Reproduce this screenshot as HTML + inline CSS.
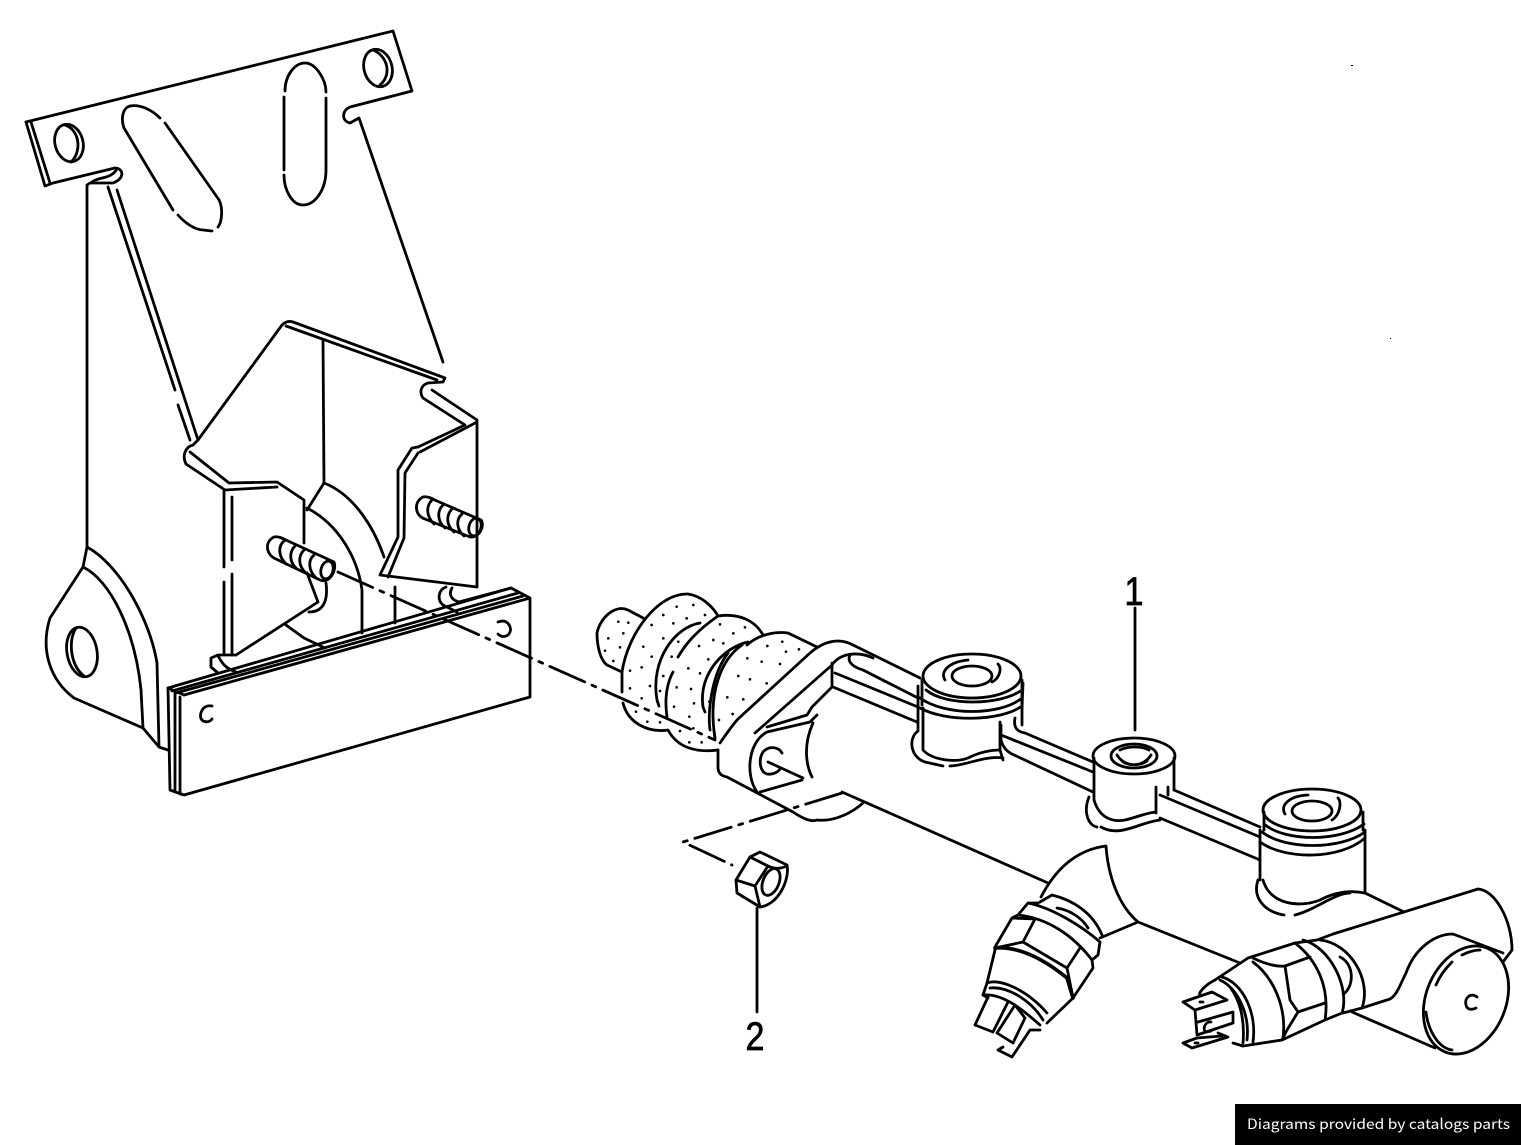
<!DOCTYPE html>
<html><head><meta charset="utf-8"><style>
html,body{margin:0;padding:0;background:#fff;width:1521px;height:1145px;overflow:hidden}
svg{display:block;position:absolute;left:0;top:0}
.b{position:absolute;left:1235px;top:1104px;width:286px;height:41px;background:#000}
</style></head><body>
<svg width="1521" height="1145" viewBox="0 0 1521 1145">
<g fill="none" stroke="#000" stroke-width="2.8" stroke-linejoin="round" stroke-linecap="round">
<!-- top plate -->
<path d="M26 122L393 31L412 91L350 107C342 110 341 121 350 123L359 118L443 362"/>
<path d="M26 122L45 186L53 183L115 168C123 168 126 178 113 183L90 183L87 185V547"/>
<path d="M31 122L50 183M92 182C100 176 110 180 117 169"/>
<ellipse cx="69" cy="143" rx="14" ry="19" transform="rotate(-15 69 143)"/>
<path d="M65 125C80 130 82 152 71 162"/>
<ellipse cx="378" cy="68" rx="14" ry="19" transform="rotate(-15 378 68)"/>
<path d="M373 50C388 56 392 75 380 85"/>
<path d="M160 118C152 110 140 104 130 106C122 108 121 120 124 128L173 210M178 215C185 223 195 230 203 230L212 231M218 227C222 222 224 205 217 197L165 123"/>
<path d="M285 91C285 75 295 63 305 63C316 63 326 80 326 92M326 98V170C326 190 315 205 303 205C292 205 284 190 284 175M284 170V97"/>
<path d="M108 187L175 390M178 405L190 440M117 190L198 440"/>
<!-- lower bracket -->
<path d="M87 547C120 565 150 620 157 663L159 747L168 750"/>
<path d="M87 547L83 567C110 580 135 630 141 690L143 728"/>
<path d="M83 567L50 618C40 650 50 680 74 698L143 728L159 747"/>
<ellipse cx="82" cy="652" rx="15" ry="25" transform="rotate(-10 82 652)"/>
<path d="M76 628C68 640 70 665 84 676"/>
<!-- channel -->
<path d="M198 440L282 325C286 321 290 321 293 322L445 378L443 382L428 383C421 385 419 392 423 398L465 425L418 447"/>
<path d="M286 326L437 380M432 390L477 420V587M477 422L420 452"/>
<path d="M198 440L193 445C185 447 182 456 186 464L225 490L277 487M190 452L229 483L277 482L304 500V543"/>
<path d="M224 490V567M224 582V653M232 497V560M232 574V655"/>
<path d="M236 655L318 602L307 573M326 583C328 598 325 612 309 612"/>
<path d="M323 340L324 483L307 510M324 483C355 495 375 530 384 557M307 508C340 525 358 560 362 590V633M395 587V623M286 625L304 638L325 648"/>
<path d="M418 447L412 448L398 470V537L380 575L477 587M418 453L405 473L404 538L388 577"/>
<path d="M446 587C438 590 437 600 443 605L457 612M452 588C448 595 452 600 459 602L511 588"/>
<path d="M218 673L211 667V658L218 655H236M218 656C222 662 223 667 236 672"/>
<!-- bar -->
<path d="M184 695L530 598V697L184 795L170 790L168 688L511 588L530 598"/>
<path d="M175 693V792M180 697V794M168 688L184 695M172 691L518 593M176 693L523 596"/>
<path d="M212 706C202 704 198 716 202 720C205 723 210 722 212 719"/>
<path d="M498 622C508 618 512 628 510 632C508 637 502 638 498 634"/>
<!-- studs -->
<path d="M274 537C264 542 266 555 276 559L320 580C330 584 337 570 334 562L288 541C282 538 278 536 274 537Z"/>
<path d="M284 541C278 546 278 556 286 564M295 546C289 552 289 562 297 569M304 550C298 556 298 566 306 573M314 555C308 560 308 570 316 578"/>
<ellipse cx="327" cy="570" rx="6" ry="9" transform="rotate(15 327 570)"/>
<path d="M423 497C413 502 415 516 425 519L470 537C480 538 485 525 481 520L437 501C431 498 427 496 423 497Z"/>
<path d="M432 500C426 506 426 516 434 524M443 505C437 511 437 521 445 528M452 509C446 515 446 525 454 532M462 514C456 519 456 529 464 536"/>
<ellipse cx="475" cy="527" rx="6" ry="9" transform="rotate(15 475 527)"/>
<!-- axis -->
<path d="M338 572L715 740" stroke-dasharray="38 8 4 8"/>
<path d="M768 762L803 778M842 792L1048 883M1138 922L1240 963"/>
<path d="M842 793L683 842L732 865" stroke-dasharray="38 8 4 8"/>
<!-- boot -->
<path d="M622 672L607 665C600 660 597 645 597 633C600 618 615 604 628 610L645 619"/>
<path d="M622 692V672C628 633 658 593 688 594C702 596 713 607 718 616C738 613 755 620 763 635"/>
<path d="M623 703C628 723 648 733 668 730C677 747 695 753 718 750"/>
<path d="M700 623C675 627 650 660 657 700L659 706M673 672C665 687 665 703 667 717M678 657C685 645 695 632 718 616"/>
<path d="M748 642C725 647 698 673 703 707L705 712M742 645C720 660 708 695 715 738M728 653C710 677 708 715 710 730"/>
<path d="M747 645C758 635 775 631 788 633L817 647"/>
<path d="M720 743C729 730 735 722 738 719L810 653C825 640 840 638 853 645L920 678"/>
<path d="M718 750V767C718 774 722 776 727 777L793 812C805 820 812 822 817 820C835 822 853 812 863 803"/>
<path d="M755 733L832 665C840 653 858 651 873 658"/>
<path d="M832 663V687L812 707L807 715L767 727M817 715L810 722L767 732C748 742 745 775 757 792M813 723C803 745 806 765 812 777"/>
<path d="M782 753C778 746 768 746 763 752C758 760 760 772 767 774C773 775 778 772 780 769"/>
<path d="M760 792L802 780"/>
<path d="M850 655C846 663 856 668 863 670L918 698M835 673L918 707M833 687L917 722"/>
<g transform="translate(595 590) scale(.3333)"><path stroke-width="8" d="M70 95h0M100 98h0M40 145h0M85 130h0M30 182h0M75 172h0M55 213h0M105 242h0M170 105h0M205 75h0M245 50h0M295 45h0M330 75h0M235 100h0M275 85h0M205 145h0M145 170h0M170 200h0M140 232h0M250 155h0M230 200h0M205 258h0M165 288h0M195 303h0M105 295h0M140 325h0M245 292h0M280 235h0M315 250h0M340 208h0M312 168h0M355 150h0M385 160h0M415 130h0M375 103h0M450 112h0M385 230h0M360 283h0M288 297h0M297 340h0M237 350h0M283 380h0M343 335h0M372 390h0M413 372h0M397 322h0M445 328h0M465 268h0M430 258h0M515 280h0M555 222h0M500 215h0M457 205h0M517 168h0M573 185h0M612 178h0M562 155h0M123 365h0M157 395h0M195 397h0M255 423h0M283 457h0M320 457h0M295 415h0"/></g>
<!-- reservoir 1 -->
<ellipse cx="972" cy="676" rx="49" ry="22"/>
<path d="M998 664C1002 668 1000 678 992 682M945 680C940 672 948 662 968 660" />
<ellipse cx="972" cy="676" rx="20" ry="10"/>
<path d="M922 680V705M1022 680V725M918 686V730M926 690C945 706 1000 706 1022 690M920 698C945 716 1000 716 1022 698M920 708C945 722 1000 722 1022 706"/>
<path d="M923 708V750C932 760 955 763 968 758C980 752 990 750 1000 750L1003 760M1000 722V750"/>
<path d="M918 731C908 738 910 757 925 762L943 766M950 766C965 766 985 755 1003 758"/>
<!-- strip center -->
<path d="M1023 683L1022 708M1015 718C1013 728 1018 732 1025 733L1093 762M1001 725V740C1003 748 1008 752 1012 754L1093 792M1001 735L1093 772"/>
<!-- center boss -->
<ellipse cx="1134" cy="756" rx="41" ry="18"/>
<ellipse cx="1134" cy="756" rx="23" ry="12"/>
<path d="M1117 755C1125 768 1143 768 1151 755M1120 750C1128 746 1142 746 1149 750M1122 761C1128 766 1140 766 1147 761"/>
<path d="M1094 758V800C1100 820 1115 822 1125 820C1135 818 1145 813 1156 812M1174 758V790M1156 787V813"/>
<path d="M1089 797C1083 812 1088 825 1097 827M1101 827C1120 838 1140 822 1160 820"/>
<path d="M1174 790L1260 827M1160 795L1260 837M1160 818L1260 860M1168 787V795"/>
<!-- reservoir 2 -->
<ellipse cx="1312" cy="810" rx="49" ry="21"/>
<path d="M1338 798C1342 802 1340 815 1332 820M1285 814C1280 806 1288 796 1308 795"/>
<ellipse cx="1312" cy="811" rx="20" ry="10"/>
<path d="M1264 812V830M1363 812V830M1264 824C1285 842 1340 842 1364 824M1262 832C1285 850 1340 850 1365 832M1260 842C1285 860 1340 860 1365 838"/>
<path d="M1260 830V880M1365 830V893"/>
<path d="M1258 880C1252 898 1265 912 1284 915M1263 880C1270 905 1300 908 1320 900C1335 892 1350 890 1365 893M1295 915C1315 910 1335 893 1350 893"/>
<path d="M1365 893L1404 912"/>
<!-- branch & tube -->
<path d="M1041 897C1055 870 1075 850 1106 846C1108 875 1118 905 1138 922L1100 938"/>
<path d="M1333 934L1478 889C1495 890 1512 920 1512 950L1503 962"/>
<path d="M1362 1008L1390 999C1397 995 1400 985 1406 973C1415 948 1435 934 1453 934L1503 953"/>
<path d="M1352 1012L1435 1048"/>
<ellipse cx="1466" cy="1000" rx="40" ry="56" transform="rotate(22 1466 1000)"/>
<path d="M1426 1012C1428 1030 1438 1048 1452 1050M1436 985C1440 975 1446 968 1452 962M1462 955C1468 952 1474 950 1480 950"/>
<path d="M1477 997C1471 992 1464 998 1466 1005C1467 1010 1472 1010 1476 1008"/>
<!-- sensor 1 -->
<path d="M1040 902L1052 895C1073 900 1093 913 1102 935M1057 908C1070 910 1082 918 1088 928"/>
<path d="M1038 903H1028L1018 915L1012 918L995 947V950L987 983L983 995L988 998M1028 903C1053 908 1083 927 1100 942L1098 955L1092 960L1093 968L1073 998L1047 1023"/>
<path d="M1018 915C1047 918 1073 935 1092 960M1012 918L1035 919L1023 942L995 948M1023 942L1067 968L1080 948M1067 968L1073 998"/>
<path d="M995 948C1020 946 1045 960 1067 978L1073 998" stroke-width="3.6"/>
<path d="M987 983C1000 978 1027 990 1047 1013M990 988C1010 986 1033 1003 1043 1020M983 995C1003 993 1023 1010 1040 1025"/>
<path d="M988 997L975 1025L993 1032L1008 1002M1015 1005L997 1033L1013 1043L1025 1018L1015 1005M998 1050L1012 1057L1030 1030L1040 1030M998 1050L1003 1047"/>
<!-- sensor 2 -->
<path d="M1215 980L1248 958L1295 943L1317 940L1333 934"/>
<path d="M1253 958C1265 964 1277 967 1285 966L1310 957M1285 966L1290 1000L1298 1012L1325 1003M1298 1012L1287 1030L1282 1040L1243 1046"/>
<path d="M1295 943C1317 960 1330 987 1325 1020L1282 1040M1303 940C1330 947 1350 987 1342 1013L1325 1020M1320 940C1350 943 1372 980 1362 1008L1343 1013"/>
<path d="M1340 957C1353 963 1355 983 1345 993"/>
<path d="M1253 962C1273 977 1287 1007 1283 1038M1222 977C1243 983 1257 1013 1253 1042M1220 980C1237 988 1250 1013 1247 1040M1230 987C1240 1000 1245 1020 1243 1043"/>
<path d="M1215 980C1205 985 1198 993 1200 995"/>
<path d="M1183 1002L1212 992L1227 1000L1195 1010L1183 1002M1195 1010L1197 1035L1233 1023V1012L1198 1022M1183 1043L1192 1048L1228 1037L1218 1033M1183 1043L1197 1038L1222 1036M1233 1043L1243 1046"/>
<path d="M1211 1022C1205 1021 1202 1030 1206 1032L1211 1031M1203 1002H1200M1198 1043H1195"/>
<!-- nut -->
<path d="M736 880L750 857L760 852L787 865C790 880 778 905 760 907L737 893Z"/>
<path d="M750 857L768 866C775 870 785 868 787 865M768 866L755 886L760 907M736 880L755 886"/>
<ellipse cx="771" cy="882" rx="8" ry="14" transform="rotate(22 771 882)"/>
<path d="M757 908V1012M1135 608V730"/>
</g>
<path d="M1351 65h2v1h-2zM1390 338h1v1h-1z" fill="#000"/>
<g font-family="'Liberation Sans Narrow','Liberation Sans',sans-serif" font-size="40" fill="#000" stroke="#000" stroke-width=".8" text-anchor="middle">
<text x="1134" y="605" transform="translate(1134 0) scale(.85 1) translate(-1134 0)">1</text>
<text x="755" y="1050" transform="translate(755 0) scale(.85 1) translate(-755 0)">2</text>
</g>
</svg>
<div class="b"></div>
<svg width="1521" height="1145" viewBox="0 0 1521 1145">
<text x="1247" y="1129" fill="#fff" font-family="'Noto Sans CJK SC','Liberation Sans',sans-serif" font-size="14" textLength="263" lengthAdjust="spacingAndGlyphs">Diagrams provided by catalogs parts</text>
</svg>
</body></html>
